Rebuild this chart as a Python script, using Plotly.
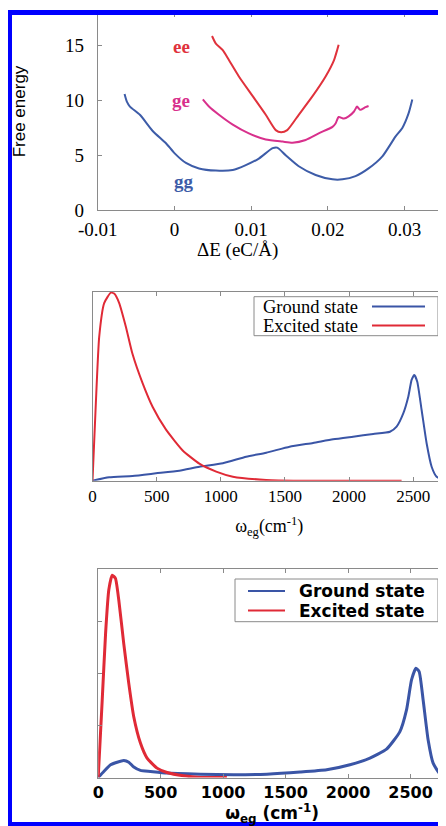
import plotly.graph_objects as go

# ---------------- data ----------------
# Panel 1: free energy curves vs Delta E
gg_x = [-0.0065, -0.0062, -0.0058, -0.0045, -0.0028, -0.0011, 0.0, 0.0015, 0.0032, 0.0054, 0.0076,
        0.0093, 0.011, 0.0128, 0.0134, 0.0145, 0.0162, 0.0184, 0.0206, 0.0219, 0.0236, 0.0253,
        0.0271, 0.0288, 0.0297, 0.0305, 0.031]
gg_y = [10.6, 9.9, 9.45, 8.7, 7.2, 6.1, 5.2, 4.3, 3.8, 3.6, 3.65,
        4.1, 4.7, 5.65, 5.7, 5.0, 4.0, 3.2, 2.8, 2.8, 3.1, 3.8,
        4.9, 6.7, 7.5, 8.8, 10.1]
ge_x = [0.0037, 0.0045, 0.0058, 0.0076, 0.0097, 0.0119, 0.0141, 0.0154, 0.0171, 0.0188, 0.0206,
        0.021, 0.0214, 0.0221, 0.0227, 0.0234, 0.0238, 0.0242, 0.0249, 0.0253]
ge_y = [10.1, 9.45, 8.7, 7.8, 7.0, 6.45, 6.25, 6.15, 6.4, 7.0, 7.6,
        7.9, 8.5, 8.35, 8.55, 9.0, 9.45, 9.15, 9.4, 9.5]
ee_x = [0.0049, 0.0054, 0.0063, 0.0071, 0.0084, 0.0102, 0.0119, 0.0132, 0.0139, 0.0147, 0.0162,
        0.018, 0.0197, 0.0208, 0.0212, 0.0214]
ee_y = [15.9, 15.2, 14.6, 13.7, 12.2, 10.4, 8.7, 7.3, 7.1, 7.3, 8.7,
        10.4, 12.2, 13.7, 14.6, 15.1]
curve_labels = ["ee", "ge", "gg"]
curve_label_x = [0.0009, 0.0009, 0.0013]
curve_label_y = [14.9, 10.0, 2.6]

# Panel 2: distributions of omega_eg (normalised)
p2_ground_x = [0, 130, 312, 495, 677, 833, 1016, 1198, 1354, 1536, 1719, 1875, 2031, 2188, 2318,
               2370, 2422, 2461, 2487, 2508, 2531, 2565, 2604, 2643, 2682, 2734, 2755]
p2_ground_y = [0, 0.018, 0.025, 0.039, 0.053, 0.074, 0.092, 0.127, 0.148, 0.18, 0.2, 0.219, 0.233,
               0.247, 0.259, 0.286, 0.356, 0.444, 0.533, 0.559, 0.524, 0.374, 0.198, 0.074, 0.021,
               0.004, 0.0]
p2_excited_x = [0, 26, 52, 91, 143, 169, 208, 260, 312, 391, 469, 573, 703, 833, 964, 1094, 1354,
                1615, 2409]
p2_excited_y = [0, 0.41, 0.76, 0.94, 0.995, 0.99, 0.94, 0.815, 0.67, 0.515, 0.39, 0.27, 0.16, 0.09,
                0.048, 0.021, 0.004, 0, 0]

# Panel 3: distributions of omega_eg (normalised)
p3_ground_x = [0, 45, 99, 152, 205, 245, 285, 338, 418, 551, 817, 1084, 1350, 1616, 1829, 2015,
               2175, 2308, 2415, 2468, 2508, 2543, 2569, 2601, 2641, 2681, 2734, 2774]
p3_ground_y = [0, 0.029, 0.061, 0.073, 0.081, 0.073, 0.05, 0.034, 0.029, 0.021, 0.016, 0.013,
               0.016, 0.026, 0.037, 0.061, 0.093, 0.136, 0.22, 0.324, 0.468, 0.524, 0.508, 0.372,
               0.18, 0.069, 0.018, 0.005]
p3_excited_x = [0, 32, 59, 85, 112, 138, 165, 205, 245, 285, 338, 391, 471, 551, 684, 817, 1030]
p3_excited_y = [0, 0.37, 0.69, 0.9, 0.97, 0.955, 0.85, 0.64, 0.45, 0.29, 0.165, 0.093, 0.045,
                0.024, 0.008, 0, 0]

series_names = ["Ground state", "Excited state"]
p1_xticks = [-0.01, 0, 0.01, 0.02, 0.03]
p1_xticklabels = ["-0.01", "0", "0.01", "0.02", "0.03"]
p1_yticks = [0, 5, 10, 15]
w_ticks = [0, 500, 1000, 1500, 2000, 2500]

# ---------------- style / layout helpers ----------------
# the page has an 8px body margin, so the figure is drawn 8px in and 8px smaller
OFF = 8
W, H = 446 - OFF, 826 - OFF
BLUE1, RED1, MAG1 = "#3d5ca8", "#e0323c", "#d8308c"
BLUE, RED = "#3a55a6", "#e02a36"
FRAME = "#8a8a8a"
SERIF = "Liberation Serif, Times New Roman, serif"
SANS = "Liberation Sans, Arial, sans-serif"
MSANS = "DejaVu Sans, Liberation Sans, sans-serif"


def px(x):
    return (x - OFF) / W


def py(y):
    return 1 - (y - OFF) / H


fig = go.Figure()

# panel 1
for xs, ys, c in [(gg_x, gg_y, BLUE1), (ge_x, ge_y, MAG1), (ee_x, ee_y, RED1)]:
    fig.add_trace(go.Scatter(x=xs, y=ys, mode="lines", line=dict(color=c, width=2, shape="spline", smoothing=0.6),
                             showlegend=False, xaxis="x", yaxis="y", hoverinfo="skip"))
for lab, lx, ly, c in zip(curve_labels, curve_label_x, curve_label_y, [RED1, MAG1, BLUE1]):
    fig.add_annotation(x=lx, y=ly, xref="x", yref="y", text="<b>%s</b>" % lab, showarrow=False,
                       font=dict(family=SERIF, size=19, color=c))

# panel 2
fig.add_trace(go.Scatter(x=p2_ground_x, y=p2_ground_y, mode="lines", name=series_names[0],
                         line=dict(color=BLUE, width=2, shape="spline", smoothing=0.5),
                         showlegend=False, xaxis="x2", yaxis="y2"))
fig.add_trace(go.Scatter(x=p2_excited_x, y=p2_excited_y, mode="lines", name=series_names[1],
                         line=dict(color=RED, width=2, shape="spline", smoothing=0.5),
                         showlegend=False, xaxis="x2", yaxis="y2"))

# panel 3
fig.add_trace(go.Scatter(x=p3_ground_x, y=p3_ground_y, mode="lines", name=series_names[0],
                         line=dict(color=BLUE, width=3, shape="spline", smoothing=0.5),
                         showlegend=False, xaxis="x3", yaxis="y3"))
fig.add_trace(go.Scatter(x=p3_excited_x, y=p3_excited_y, mode="lines", name=series_names[1],
                         line=dict(color=RED, width=3, shape="spline", smoothing=0.5),
                         showlegend=False, xaxis="x3", yaxis="y3"))

axis_common = dict(showline=True, linecolor=FRAME, linewidth=1, mirror="ticks", ticks="inside",
                   ticklen=4, tickcolor=FRAME, showgrid=False, zeroline=False, automargin=False)

fig.update_layout(
    template="none",
    width=W, height=H, margin=dict(l=0, r=0, t=0, b=0, pad=0, autoexpand=False),
    paper_bgcolor="white", plot_bgcolor="white", showlegend=False,
    xaxis=dict(axis_common, domain=[px(97.7), px(443)], range=[-0.01, 0.035], anchor="y",
               tickvals=p1_xticks, ticktext=p1_xticklabels, ticklabelstandoff=2,
               tickfont=dict(family=SERIF, size=19, color="black")),
    yaxis=dict(axis_common, domain=[py(210), py(13)], range=[0, 18], anchor="x",
               tickvals=p1_yticks, tickfont=dict(family=SERIF, size=19, color="black"),
               ticklabelstandoff=9,
               title=dict(text="Free energy", font=dict(family=SANS, size=17, color="black"), standoff=34)),
    xaxis2=dict(axis_common, domain=[px(92.5), 1.0], range=[0, 2755], anchor="y2",
                tickvals=w_ticks, tickfont=dict(family=SERIF, size=17, color="black"),
                title=dict(text="ω<sub>eg</sub>(cm<sup>-1</sup>)", font=dict(family=SERIF, size=18, color="black"),
                           standoff=14)),
    yaxis2=dict(showline=True, linecolor=FRAME, linewidth=1, mirror=True, ticks="", showticklabels=False,
                showgrid=False, zeroline=False, automargin=False,
                domain=[py(480.7), py(291.7)], range=[0, 1], anchor="x2"),
    xaxis3=dict(axis_common, domain=[px(98.2), 1.0], range=[0, 2784], anchor="y3",
                tickvals=w_ticks, tickfont=dict(family=MSANS, size=16, color="black", weight="bold"),
                title=dict(text="ω<sub>eg</sub> (cm<sup>-1</sup>)",
                           font=dict(family=MSANS, size=17, color="black", weight="bold"), standoff=2)),
    yaxis3=dict(axis_common, domain=[py(777.5), py(569)], range=[0, 1], anchor="x3",
                dtick=0.25, showticklabels=False),
)

# panel 1 x-axis title (sits left of the plot centre in the original)
fig.add_annotation(x=px(237), y=py(250), xref="paper", yref="paper", text="ΔE (eC/Å)", showarrow=False,
                   xanchor="center", yanchor="middle", font=dict(family=SERIF, size=19, color="black"))

# panel 2 legend (gnuplot style: text left, line sample right)
fig.add_shape(type="rect", xref="paper", yref="paper", x0=px(254), x1=px(438), y0=py(335.7), y1=py(296.7),
              line=dict(color=FRAME, width=1), fillcolor="white", layer="above")
for i, (nm, c) in enumerate(zip(series_names, [BLUE, RED])):
    yy = 306.5 + 19 * i
    fig.add_annotation(x=px(360), y=py(yy), xref="paper", yref="paper", xanchor="right", yanchor="middle",
                       text=nm, showarrow=False, font=dict(family=SERIF, size=18.5, color="black"))
    fig.add_shape(type="line", xref="paper", yref="paper", x0=px(372), x1=px(425), y0=py(yy), y1=py(yy),
                  line=dict(color=c, width=2), layer="above")

# panel 3 legend (matlab style: line sample left, text right)
fig.add_shape(type="rect", xref="paper", yref="paper", x0=px(235), x1=px(438), y0=py(621.7), y1=py(579),
              line=dict(color=FRAME, width=1), fillcolor="white", layer="above")
for i, (nm, c) in enumerate(zip(series_names, [BLUE, RED])):
    yy = 591 + 19.5 * i
    fig.add_shape(type="line", xref="paper", yref="paper", x0=px(248), x1=px(285), y0=py(yy), y1=py(yy),
                  line=dict(color=c, width=2), layer="above")
    fig.add_annotation(x=px(297), y=py(yy), xref="paper", yref="paper", xanchor="left", yanchor="middle",
                       text=nm, showarrow=False,
                       font=dict(family=MSANS, size=17, color="black", weight="bold"))

# blue outer frame
fig.add_shape(type="rect", xref="paper", yref="paper", x0=px(9.5), x1=px(444.5), y0=py(824.5), y1=py(12.5),
              line=dict(color="#0000ff", width=5), layer="above")

fig.write_html("out.html")
